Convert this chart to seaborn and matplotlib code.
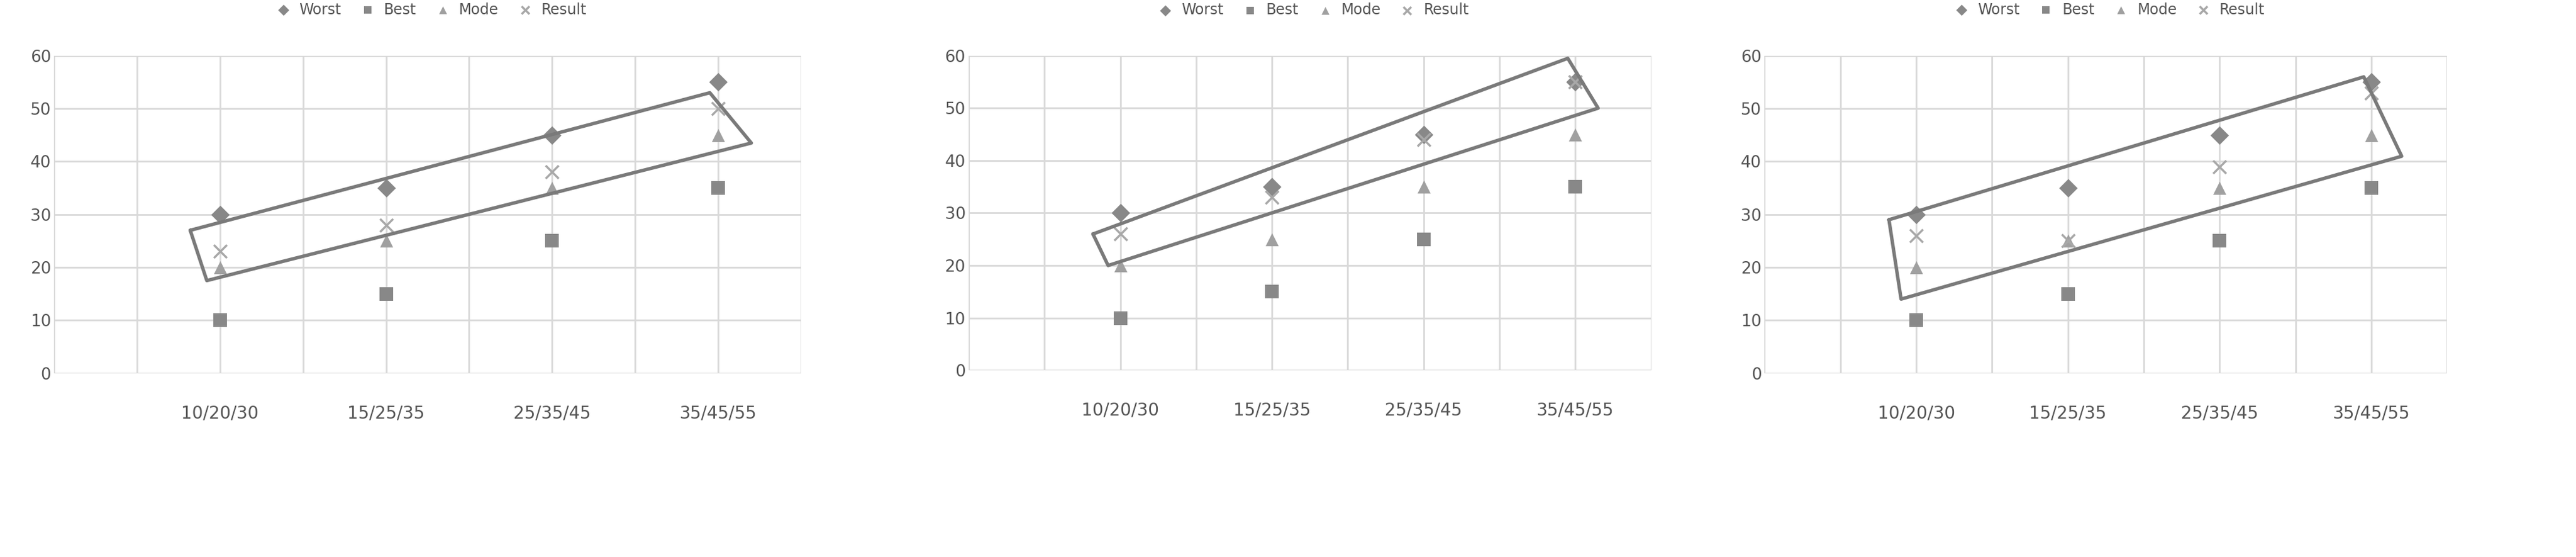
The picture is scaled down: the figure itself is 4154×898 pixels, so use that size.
import numpy as np
import pandas as pd
import seaborn as sns
import matplotlib.pyplot as plt

sns.set_style("white")

categories = ['10/20/30', '15/25/35', '25/35/45', '35/45/55']
worst = [30, 35, 45, 55]
best = [10, 15, 25, 35]
mode = [20, 25, 35, 45]
result_1 = [23, 28, 38, 50]
result_2 = [26, 33, 44, 55]
result_3 = [26, 25, 39, 53]
titles = ['SIMULATION RESULT (CASE I)', 'SIMULATION RESULT (CASE II)', 'SIMULATION RESULT (CASE III)']
# enclosing box corners (x, y) in data units for each case
boxes = [
    [(0.82, 27), (3.95, 53), (4.2, 43.5), (0.92, 17.5)],
    [(0.82, 26), (3.95, 59.5), (4.15, 50), (0.92, 20)],
    [(0.82, 29), (3.95, 56), (4.2, 41), (0.9, 14)],
]

grey = '#888888'
fig = plt.figure(figsize=(41.54, 8.98), dpi=100)
lefts = [0.021, 0.376, 0.685]
widths = [0.29, 0.265, 0.265]
bottoms = [0.33, 0.335, 0.33]
heights = [0.57, 0.565, 0.57]
for i, res in enumerate([result_1, result_2, result_3]):
    ax = fig.add_axes([lefts[i], bottoms[i], widths[i], heights[i]])
    x = np.arange(1, 5)
    series = [('Worst', worst, 'D', grey), ('Best', best, 's', grey),
              ('Mode', mode, '^', '#a0a0a0'), ('Result', res, 'x', '#a8a8a8')]
    for name, vals, mk, col in series:
        df = pd.DataFrame({'x': x, 'y': vals})
        sns.scatterplot(data=df, x='x', y='y', marker=mk, color=col, s=230,
                        linewidth=2.5 if mk == 'x' else 0, label=name, ax=ax, zorder=3)
    bx = boxes[i] + [boxes[i][0]]
    ax.plot([p[0] for p in bx], [p[1] for p in bx], color='#7a7a7a', lw=4, zorder=4,
            solid_joinstyle='round')
    ax.set_xlim(0, 4.5)
    ax.set_ylim(0, 60)
    ax.set_xticks(np.arange(0, 4.51, 0.5))
    ax.set_xticklabels([])
    for xi, lab in zip(x, categories):
        ax.text(xi, -6, lab, ha='center', va='top', fontsize=20, color='#555555')
    ax.set_yticks(range(0, 61, 10))
    ax.tick_params(axis='y', labelsize=19, colors='#555555', length=0)
    ax.tick_params(axis='x', length=0)
    ax.grid(True, color='#d9d9d9', lw=2)
    for s in ax.spines.values():
        s.set_visible(False)
    ax.set_xlabel('')
    ax.set_ylabel('')
    ax.legend(loc='lower center', bbox_to_anchor=(0.5, 1.08), ncol=4, frameon=False,
              fontsize=17, handletextpad=0.1, columnspacing=0.8, markerscale=0.6,
              labelcolor='#555555')
    ax.set_title(titles[i], fontsize=30, fontweight='bold', color='#595959', pad=80,
                 family='Open Sans')

fig.savefig('out.png', dpi=100)
